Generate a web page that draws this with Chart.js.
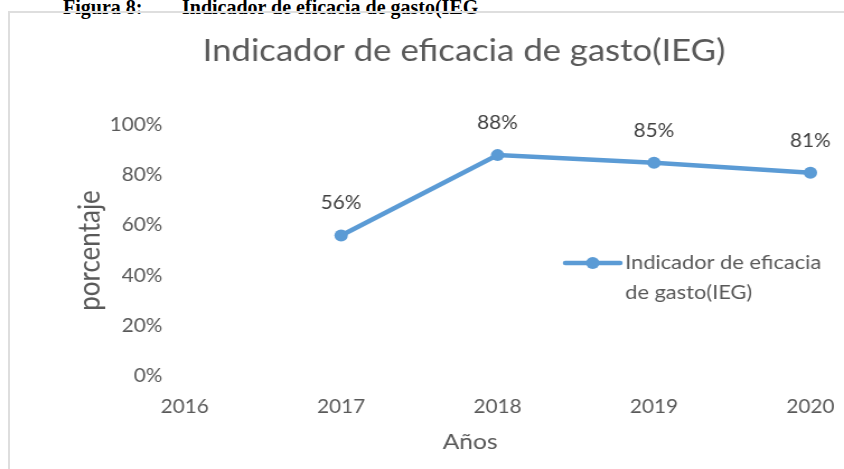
<!DOCTYPE html>
<html>
<head>
<meta charset="utf-8">
<script src="https://cdn.jsdelivr.net/npm/chart.js@4"></script>
<style>
  html, body { margin: 0; padding: 0; background: #fff; overflow: hidden; }
  body { width: 844px; height: 469px; position: relative; }
  .heading { position: absolute; top: -3px; font: bold 20px "Liberation Serif", "Times New Roman", serif; line-height: 20px; color: #000; white-space: nowrap; }
  .frame { position: absolute; left: 8px; top: 11px; width: 900px; height: 520px; border: 2px solid #dedede; box-sizing: border-box; }
  /* the original picture is stretched sideways, so the canvas is too */
  #chart { position: absolute; left: 0; top: 0; transform: scaleX(1.11936); transform-origin: 0 0; }
</style>
</head>
<body>
<span class="heading" style="left:63px">Figura 8:</span>
<span class="heading" style="left:182px">Indicador de eficacia de gasto(IEG</span>
<div class="frame"></div>
<canvas id="chart" width="754" height="469"></canvas>
<script>
const years = ['2016', '2017', '2018', '2019', '2020'];
const iegValues = [null, 56, 88, 85, 81];
const yTicks = [0, 20, 40, 60, 80, 100];

const seriesLabel = 'Indicador de eficacia de gasto(IEG)';
const legendLines = ['Indicador de eficacia', 'de gasto(IEG)'];
const xTitle = 'Años';
const yTitle = 'porcentaje';
const blue = '#5B9BD5';
const grey = '#595959';

// percent labels above each point
const pointLabels = {
  id: 'pointLabels',
  afterDatasetsDraw(chart) {
    const ctx = chart.ctx;
    const meta = chart.getDatasetMeta(0);
    ctx.save();
    ctx.font = '18.5px Lato';
    ctx.fillStyle = '#404040';
    ctx.textAlign = 'center';
    ctx.textBaseline = 'middle';
    meta.data.forEach((pt, i) => {
      const v = iegValues[i];
      if (v == null) return;
      ctx.fillText(v + '%', pt.x, pt.y - 32);
    });
    ctx.restore();
  }
};

// chart title and x title sit off-centre in the original, so draw them here
const captions = {
  id: 'captions',
  afterDraw(chart) {
    const ctx = chart.ctx;
    ctx.save();
    ctx.fillStyle = grey;
    ctx.textAlign = 'center';
    ctx.textBaseline = 'middle';
    ctx.font = '31px Lato';
    ctx.fillText(seriesLabel, 414.5, 51);
    ctx.font = '22px Lato';
    ctx.fillText(xTitle, 420, 442);
    ctx.restore();
  }
};

// legend sits inside the plot, text wrapped on two lines
const insideLegend = {
  id: 'insideLegend',
  afterDraw(chart) {
    const ctx = chart.ctx;
    const x = 505, y = 263;
    ctx.save();
    ctx.strokeStyle = blue;
    ctx.lineWidth = 4.5;
    ctx.lineCap = 'round';
    ctx.beginPath();
    ctx.moveTo(x, y);
    ctx.lineTo(x + 49, y);
    ctx.stroke();
    ctx.fillStyle = blue;
    ctx.beginPath();
    ctx.arc(x + 24.5, y, 6, 0, Math.PI * 2);
    ctx.fill();
    ctx.font = '19.5px Lato';
    ctx.fillStyle = grey;
    ctx.textAlign = 'left';
    ctx.textBaseline = 'middle';
    legendLines.forEach((t, i) => ctx.fillText(t, x + 53.5, y + i * 30));
    ctx.restore();
  }
};

new Chart(document.getElementById('chart'), {
  type: 'line',
  data: {
    labels: years,
    datasets: [{
      label: seriesLabel,
      data: iegValues,
      borderColor: blue,
      backgroundColor: blue,
      borderWidth: 4.5,
      pointRadius: 6,
      pointBorderWidth: 0,
      pointBackgroundColor: blue,
      tension: 0
    }]
  },
  options: {
    responsive: false,
    animation: false,
    layout: { padding: { top: 125, left: 65, right: 30, bottom: 15 } },
    plugins: {
      legend: { display: false },
      tooltip: { enabled: false },
      title: { display: false }
    },
    scales: {
      x: {
        offset: false,
        afterFit(scale) {
          scale.height = 78;
          scale.paddingLeft = 0;
          scale.paddingRight = 0;
        },
        grid: { display: false, drawTicks: false },
        border: { display: false },
        ticks: { color: grey, font: { family: 'Lato', size: 18.5 }, padding: 20, maxRotation: 0 }
      },
      y: {
        min: 0,
        max: 100,
        afterBuildTicks(scale) { scale.ticks = yTicks.map(v => ({ value: v })); },
        afterFit(scale) { scale.width = 100; },
        grid: { display: false, drawTicks: false },
        border: { display: false },
        ticks: { color: grey, font: { family: 'Lato', size: 18.5 }, padding: 20, callback: v => v + '%' },
        title: { display: true, text: yTitle, color: grey, font: { family: 'Lato', size: 26 }, padding: { top: 0, bottom: 0 } }
      }
    }
  },
  plugins: [pointLabels, captions, insideLegend]
});
</script>
</body>
</html>
